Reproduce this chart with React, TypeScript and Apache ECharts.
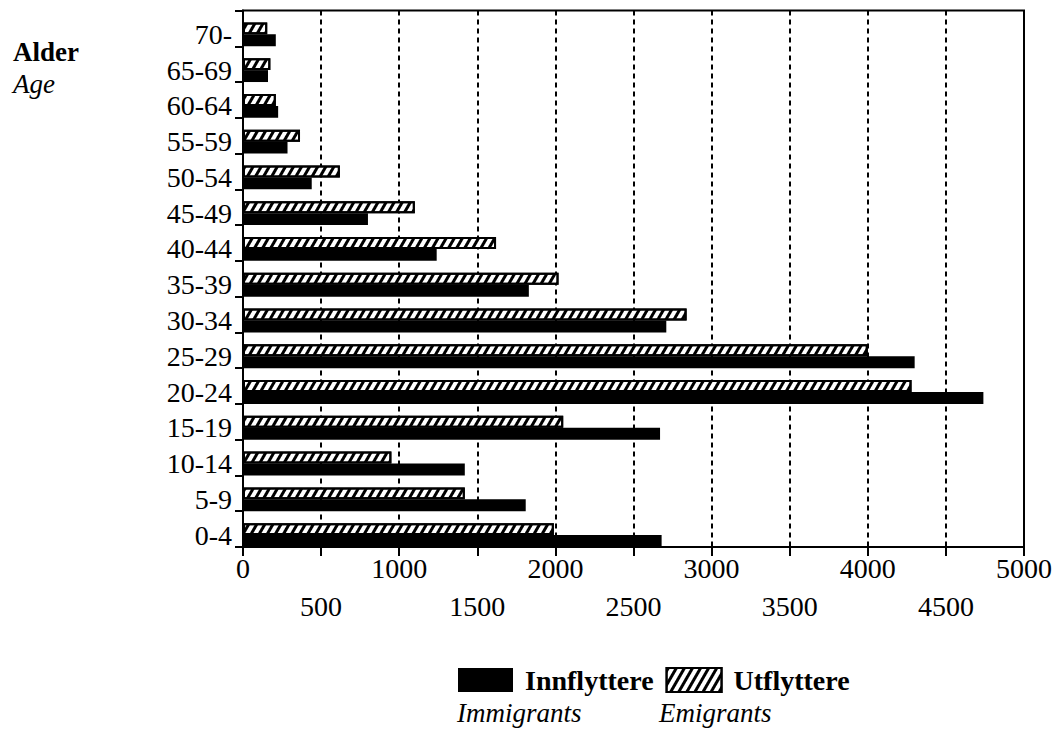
import React, { useEffect, useRef } from "react";
import * as echarts from "echarts";

const categories = ["0-4", "5-9", "10-14", "15-19", "20-24", "25-29", "30-34", "35-39", "40-44", "45-49", "50-54", "55-59", "60-64", "65-69", "70-"];
const innflyttere = [2680, 1810, 1420, 2670, 4740, 4300, 2710, 1830, 1240, 800, 440, 285, 225, 160, 210];
const utflyttere = [1990, 1420, 950, 2050, 4280, 4000, 2840, 2020, 1620, 1100, 620, 365, 210, 175, 155];
const spacer = [0, 0, 0, 0, 0, 0, 0, 0, 0, 0, 0, 0, 0, 0, 0];

const FONT = "Liberation Serif";

export default function App() {
  const ref = useRef<HTMLDivElement>(null);
  useEffect(() => {
    if (!ref.current) return;
    const chart = echarts.init(ref.current, undefined, { renderer: "svg" });
    const hatch = {
      color: "#000",
      symbol: "rect",
      symbolSize: 1,
      symbolKeepAspect: false,
      dashArrayX: [1, 0],
      dashArrayY: [2.5, 3.5],
      rotation: -Math.PI / 3,
    };
    chart.setOption({
      animation: false,
      backgroundColor: "#fff",
      title: [
        { text: "Alder", left: 8, top: 33, textStyle: { fontFamily: FONT, fontSize: 27, fontWeight: "bold", color: "#000" } },
        { text: "Age", left: 8, top: 65, textStyle: { fontFamily: FONT, fontSize: 27, fontWeight: "normal", fontStyle: "italic", color: "#000" } },
      ],
      legend: {
        data: ["Innflyttere", "Utflyttere"],
        left: 453,
        top: 661,
        itemWidth: 55,
        itemHeight: 24,
        itemGap: 12,
        icon: "rect",
        textStyle: { fontFamily: FONT, fontSize: 28, fontWeight: "bold", color: "#000", padding: [0, 0, 0, 7] },
      },
      graphic: [
        { type: "text", left: 457, top: 699, style: { text: "Immigrants", font: `italic 27px "${FONT}"`, fill: "#000" } },
        { type: "text", left: 659, top: 699, style: { text: "Emigrants", font: `italic 27px "${FONT}"`, fill: "#000" } },
      ],
      grid: { left: 243, right: 37, top: 10.5, bottom: 190, show: true, borderColor: "#000", borderWidth: 2, containLabel: false },
      xAxis: {
        type: "value",
        min: 0,
        max: 5000,
        interval: 500,
        axisLine: { show: true, lineStyle: { color: "#000", width: 2 } },
        axisTick: { show: true, length: 9, lineStyle: { color: "#000", width: 2 } },
        splitLine: { show: true, lineStyle: { color: "#000", width: 2, type: [5, 4] } },
        axisLabel: {
          fontFamily: FONT,
          fontSize: 28,
          color: "#000",
          lineHeight: 38,
          margin: 2,
          formatter: (v: number) => (v % 1000 === 0 ? String(v) : "\n" + v),
        },
      },
      yAxis: {
        type: "category",
        data: categories,
        axisLine: { show: true, lineStyle: { color: "#000", width: 2 } },
        axisTick: { show: true, length: 8, alignWithLabel: false, interval: 0, lineStyle: { color: "#000", width: 2 } },
        splitLine: { show: false },
        axisLabel: { interval: 0, fontFamily: FONT, fontSize: 28, color: "#000", margin: 11, verticalAlign: "top", lineHeight: 12 },
      },
      series: [
        {
          name: "spacer",
          type: "bar",
          data: spacer,
          silent: true,
          barGap: "0%",
          barCategoryGap: "0%",
          itemStyle: { color: "rgba(0,0,0,0)" },
        },
        {
          name: "Utflyttere",
          type: "bar",
          data: utflyttere,
          itemStyle: { color: "#fff", borderColor: "#000", borderWidth: 2, decal: hatch },
        },
        {
          name: "Innflyttere",
          type: "bar",
          data: innflyttere,
          itemStyle: { color: "#000", borderColor: "#000", borderWidth: 0 },
        },
      ],
    });
    return () => chart.dispose();
  }, []);
  return <div ref={ref} style={{ position: "fixed", left: 0, top: 0, width: 1061, height: 737 }} />;
}
